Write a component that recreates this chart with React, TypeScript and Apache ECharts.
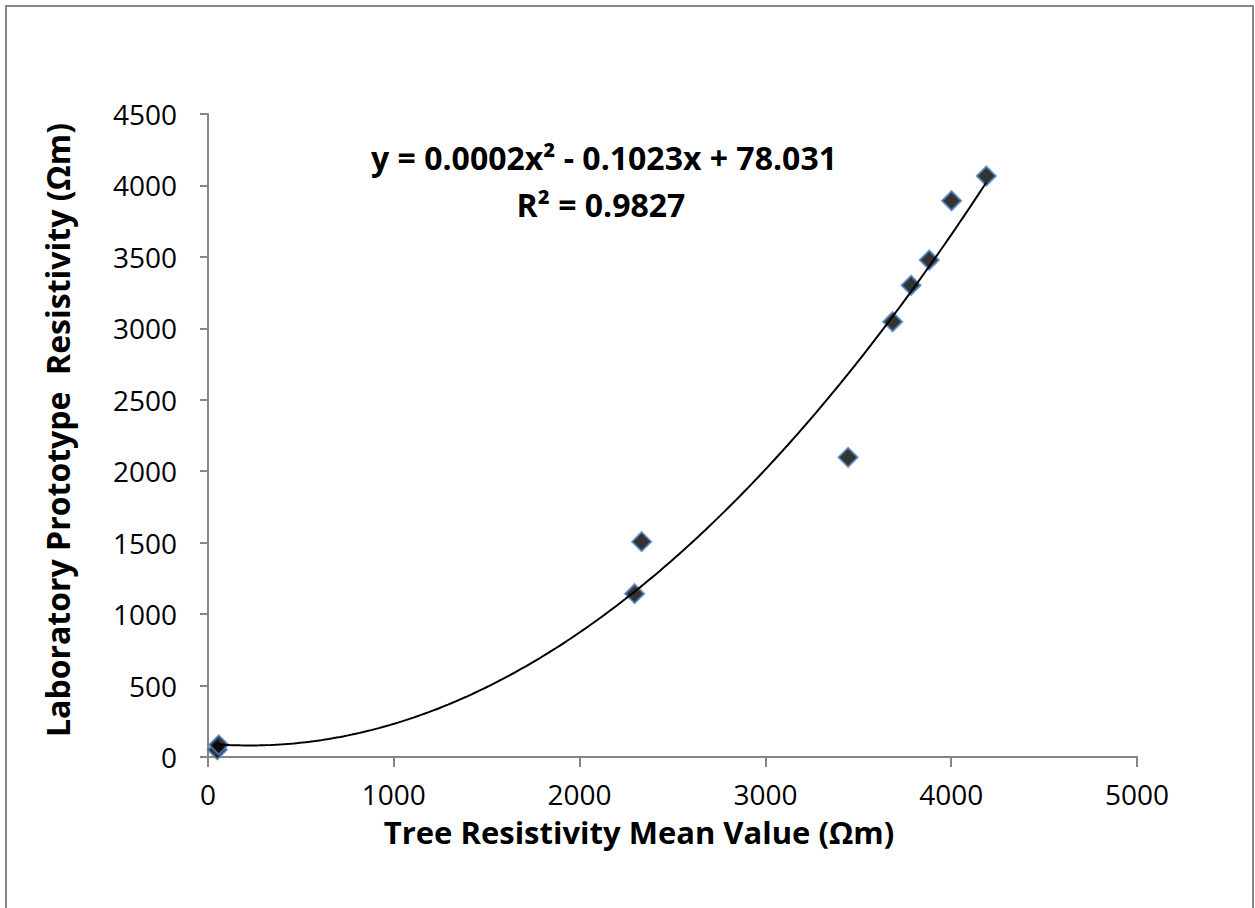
import React, { useEffect, useRef } from "react";
import * as echarts from "echarts";

// Measured tree resistivity (x) vs laboratory prototype resistivity (y), in Ωm
const treeResistivity = [50, 58, 2296, 2334, 3445, 3685, 3784, 3882, 4002, 4189];
const labResistivity = [50, 85, 1143, 1507, 2097, 3046, 3301, 3478, 3893, 4066];

const equationText = "y = 0.0002x² - 0.1023x + 78.031";
const rSquaredText = "R² = 0.9827";
const xTitle = "Tree Resistivity Mean Value (Ωm)";
const yTitle = "Laboratory Prototype  Resistivity (Ωm)";

// Least-squares quadratic fit (polynomial trendline of order 2)
function fitQuadratic(xs: number[], ys: number[]): [number, number, number] {
  const n = xs.length;
  let s0 = n, s1 = 0, s2 = 0, s3 = 0, s4 = 0, t0 = 0, t1 = 0, t2 = 0;
  for (let i = 0; i < n; i++) {
    const x = xs[i], y = ys[i];
    s1 += x; s2 += x * x; s3 += x * x * x; s4 += x * x * x * x;
    t0 += y; t1 += x * y; t2 += x * x * y;
  }
  // Solve [s4 s3 s2; s3 s2 s1; s2 s1 s0] [a b c] = [t2 t1 t0]
  const m = [
    [s4, s3, s2, t2],
    [s3, s2, s1, t1],
    [s2, s1, s0, t0],
  ];
  for (let col = 0; col < 3; col++) {
    let piv = col;
    for (let r = col + 1; r < 3; r++) if (Math.abs(m[r][col]) > Math.abs(m[piv][col])) piv = r;
    [m[col], m[piv]] = [m[piv], m[col]];
    for (let r = 0; r < 3; r++) {
      if (r === col) continue;
      const f = m[r][col] / m[col][col];
      for (let k = col; k < 4; k++) m[r][k] -= f * m[col][k];
    }
  }
  return [m[0][3] / m[0][0], m[1][3] / m[1][1], m[2][3] / m[2][2]];
}

export default function App() {
  const ref = useRef<HTMLDivElement>(null);

  useEffect(() => {
    if (!ref.current) return;
    const chart = echarts.init(ref.current, undefined, { renderer: "svg" });

    const [a, b, c] = fitQuadratic(treeResistivity, labResistivity);
    const xMin = Math.min(...treeResistivity);
    const xMax = Math.max(...treeResistivity);
    const trend: number[][] = [];
    const steps = 200;
    for (let i = 0; i <= steps; i++) {
      const x = xMin + ((xMax - xMin) * i) / steps;
      trend.push([x, a * x * x + b * x + c]);
    }

    const font = "'Open Sans', sans-serif";
    const axisGrey = "#868686";
    const plain = (v: number) => String(v);

    const boldText = (text: string, x: number, y: number, size: number, rotation = 0) => ({
      type: "text",
      x,
      y,
      rotation,
      style: {
        text,
        fontFamily: font,
        fontSize: size,
        fontWeight: "bold",
        fill: "#000",
        textAlign: "center",
        textVerticalAlign: "middle",
      },
    });

    chart.setOption({
      animation: false,
      backgroundColor: "#ffffff",
      grid: { left: 208, right: 118, top: 114, bottom: 151, containLabel: false },
      xAxis: {
        type: "value",
        min: 0,
        max: 5000,
        interval: 1000,
        axisLine: { show: true, onZero: false, lineStyle: { color: axisGrey, width: 2 } },
        axisTick: { show: true, inside: false, length: 10, lineStyle: { color: axisGrey, width: 2 } },
        axisLabel: { fontFamily: font, fontSize: 28, color: "#000", margin: 23, formatter: plain },
        splitLine: { show: false },
      },
      yAxis: {
        type: "value",
        min: 0,
        max: 4500,
        interval: 500,
        axisLine: { show: true, onZero: false, lineStyle: { color: axisGrey, width: 2 } },
        axisTick: { show: true, inside: false, length: 8, lineStyle: { color: axisGrey, width: 2 } },
        axisLabel: { fontFamily: font, fontSize: 28, color: "#000", margin: 31, formatter: plain },
        splitLine: { show: false },
      },
      series: [
        {
          type: "scatter",
          data: treeResistivity.map((x, i) => [x, labResistivity[i]]),
          symbol: "diamond",
          symbolSize: 19,
          itemStyle: { color: "#000000", borderColor: "#4f81bd", borderWidth: 2 },
          z: 2,
        },
        {
          type: "line",
          data: trend,
          showSymbol: false,
          symbol: "none",
          smooth: false,
          lineStyle: { color: "#000000", width: 2 },
          z: 3,
          silent: true,
        },
      ],
      graphic: [
        {
          type: "rect",
          shape: { x: 6, y: 6, width: 1247, height: 940 },
          style: { fill: "none", stroke: axisGrey, lineWidth: 2 },
          silent: true,
        },
        boldText(xTitle, 639, 832, 31),
        boldText(yTitle, 57, 430, 32, Math.PI / 2),
        boldText(equationText, 604, 157, 32),
        boldText(rSquaredText, 601, 204, 32),
      ],
    });

    return () => chart.dispose();
  }, []);

  return (
    <div
      ref={ref}
      style={{ position: "fixed", left: 0, top: 0, width: 1255, height: 908, background: "#fff" }}
    />
  );
}
